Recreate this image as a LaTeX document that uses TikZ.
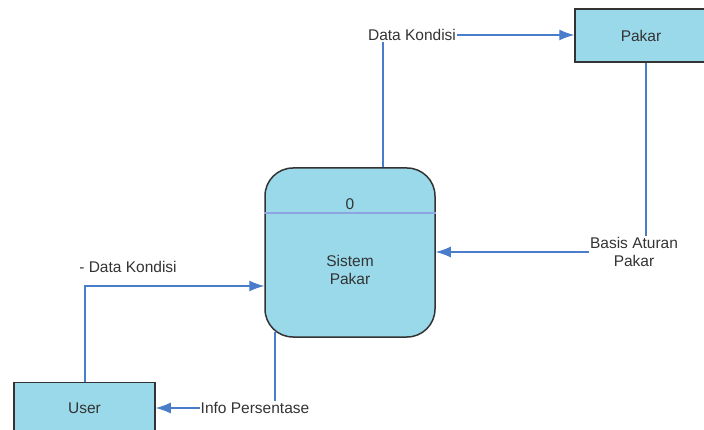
\documentclass[tikz,border=0pt]{standalone}
\usepackage{fontspec}
\setmainfont{Liberation Sans}
\usepackage{xcolor}
\usetikzlibrary{arrows.meta}

\definecolor{boxfill}{RGB}{154,217,234}
\definecolor{flowblue}{RGB}{74,124,204}
\definecolor{divblue}{RGB}{140,165,222}
\definecolor{txtgray}{RGB}{51,51,51}

\tikzset{
	entity/.style={draw=txtgray, line width=1.5pt, fill=boxfill, text=txtgray, minimum width=141pt, minimum height=52pt},
	process/.style={draw=txtgray, line width=1.5pt, fill=boxfill, rounded corners=28pt, minimum width=170pt, minimum height=169pt},
	lbl/.style={text=txtgray, inner sep=1pt, align=center},
	flow/.style={draw=flowblue, line width=1.2pt},
	tip/.style={-{Latex[length=15pt,width=11pt]}}
}

\begin{document}
\begin{tikzpicture}[x=1pt, y=-1pt, font=\fontsize{15.5}{18.5}\selectfont]

\useasboundingbox (0,0) rectangle (704,430);
\clip (0,0) rectangle (704,430);

% nodes
\node[process] (sistem) at (350,252.5) {};
\draw[divblue, line width=2.5pt] ([yshift=-46pt]sistem.north west) -- ([yshift=-46pt]sistem.north east);
\node[lbl] (nomor) at (350,204) {0};
\node[lbl] (nama) at (350,270) {Sistem\\Pakar};

\node[entity, minimum width=132pt, minimum height=53pt] (pakar) at (641,35.5) {Pakar};
\node[entity] (user) at (84.5,408.5) {User};

% labels
\node[lbl] (kondisi) at (412,35) {Data Kondisi};
\node[lbl] (basis) at (634,252) {Basis Aturan\\Pakar};
\node[lbl] (kondisiuser) at (128,267) {- Data Kondisi};
\node[lbl] (info) at (255,408) {Info Persentase};
\coordinate (belok) at (85,286);

% flows
\draw[flow] ([xshift=33pt]sistem.north) -- ([xshift=33pt]sistem.north |- kondisi.south);
\draw[flow, tip] (kondisi.east) -- (pakar.west |- kondisi.east);

\draw[flow] (pakar.south -| 646,0) -- (646,0 |- basis.north);
\draw[flow, tip] (basis.west) -- (sistem.east |- basis.west);

\draw[flow, tip] (user.north -| belok) -- (belok) -- (sistem.west |- belok);

\draw[flow] ([xshift=-75pt,yshift=6pt]sistem.south) -- ([xshift=-75pt]sistem.south |- info.north);
\draw[flow, tip] (info.west) -- (user.east |- info.west);

\end{tikzpicture}
\end{document}
